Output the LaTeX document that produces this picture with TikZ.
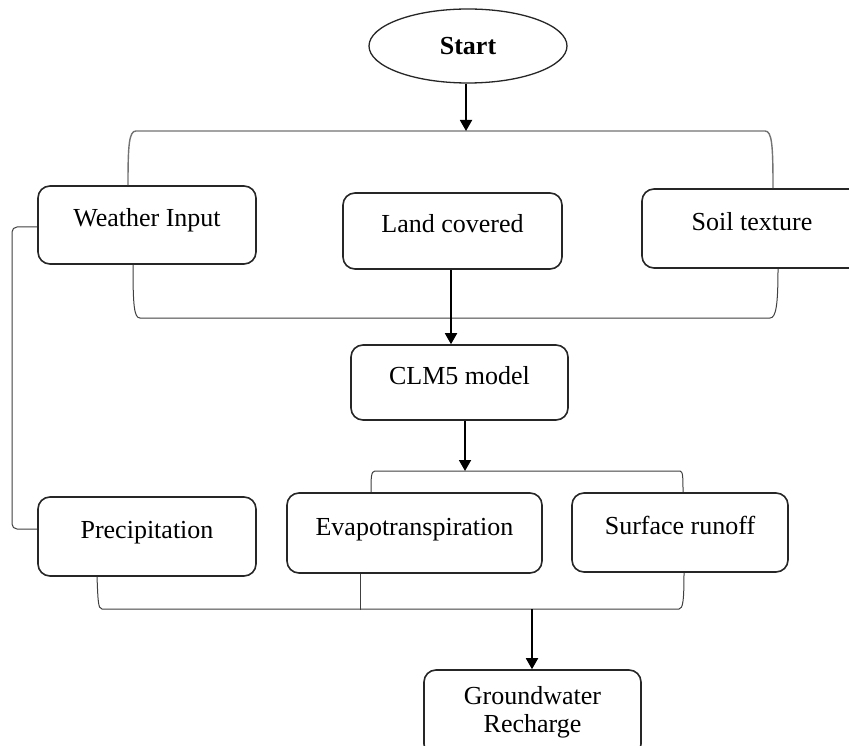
\documentclass[tikz,border=0pt]{standalone}
\usepackage{fontspec}
\setmainfont{Liberation Serif}
\usetikzlibrary{arrows.meta,shapes.geometric}
\begin{document}
\begin{tikzpicture}[x=1pt,y=-1pt,
  box/.style={draw=black!85, line width=1.6pt, rounded corners=12pt, inner sep=0pt,
    font=\fontsize{26}{28}\selectfont, text height=18pt, text depth=14pt},
  brk/.style={draw=black!75, line width=1pt},
  topline/.style={draw=black!55, line width=1.4pt},
  arr/.style={draw=black, line width=1.8pt, -{Triangle[width=12pt,length=11pt]}}]
\useasboundingbox (0,0) rectangle (849,746);
\clip (0,0) rectangle (849,746);
\fill[white] (0,0) rectangle (849,746);

% nodes
\node[draw=black!85, line width=1.3pt, ellipse, minimum width=198pt, minimum height=74pt,
  inner sep=0pt, font=\bfseries\fontsize{26}{28}\selectfont] (start) at (468,46) {Start};
\node[box, minimum width=218pt, minimum height=78pt] (wi) at (147,225) {Weather Input};
\node[box, minimum width=219pt, minimum height=76pt] (lc) at (452.5,231) {Land covered};
\node[box, minimum width=220pt, minimum height=79pt] (st) at (752,228.5) {Soil texture};
\node[box, minimum width=217pt, minimum height=75pt] (clm) at (459.5,382.5) {CLM5 model};
\node[box, minimum width=218pt, minimum height=79pt] (pr) at (147,536.5) {Precipitation};
\node[box, minimum width=255pt, minimum height=80pt] (ev) at (414.5,533) {Evapotranspiration};
\node[box, minimum width=216pt, minimum height=79pt] (sr) at (680,532.5) {Surface runoff};
\node[box, minimum width=217pt, minimum height=86pt, align=center, text height=46pt, text depth=8pt]
  (gw) at (532.5,713) {Groundwater\\Recharge};

\coordinate (tbar) at (466,131);
\coordinate (mbar) at (465,471);
\coordinate (bbar) at (532,609);

% top brace
\draw[topline] ([xshift=-19pt]wi.north) .. controls (128,145) and (129,131) .. (136,131)
  -- (765,131) .. controls (772,131) and (773,145) .. ([xshift=21pt]st.north);
% bottom of top group
\draw[brk] ([xshift=-14pt]wi.south) .. controls (133,305) and (134,318) .. (140,318)
  -- (770,318) .. controls (776,318) and (778,305) .. ([xshift=26pt]st.south);
% middle bracket
\draw[brk] ([xshift=-43.5pt]ev.north) .. controls (371,478) and (371,471) .. (375,471)
  -- (680,471) .. controls (683,471) and (683,478) .. ([xshift=3pt]sr.north);
% bottom bracket
\draw[brk] ([xshift=-50pt]pr.south) .. controls (98,600) and (98,609) .. (102,609)
  -- (679,609) .. controls (683,609) and (684,600) .. ([xshift=4pt]sr.south);
\draw[brk] ([xshift=-54.5pt]ev.south) -- ++(0,36);
% left bracket
\draw[brk, rounded corners=5pt] ([yshift=-2pt]wi.west) -- (12,227) -- (12,529)
  -- ([yshift=7.5pt]pr.west);

% arrows
\draw[arr] (start.south -| tbar) -- (tbar);
\draw[arr] ([xshift=-1.5pt]lc.south) -- ([xshift=-1.5pt]lc.south |- clm.north);
\draw[arr] (clm.south -| mbar) -- (mbar);
\draw[arr] (bbar) -- (bbar |- gw.north);
\end{tikzpicture}
\end{document}
